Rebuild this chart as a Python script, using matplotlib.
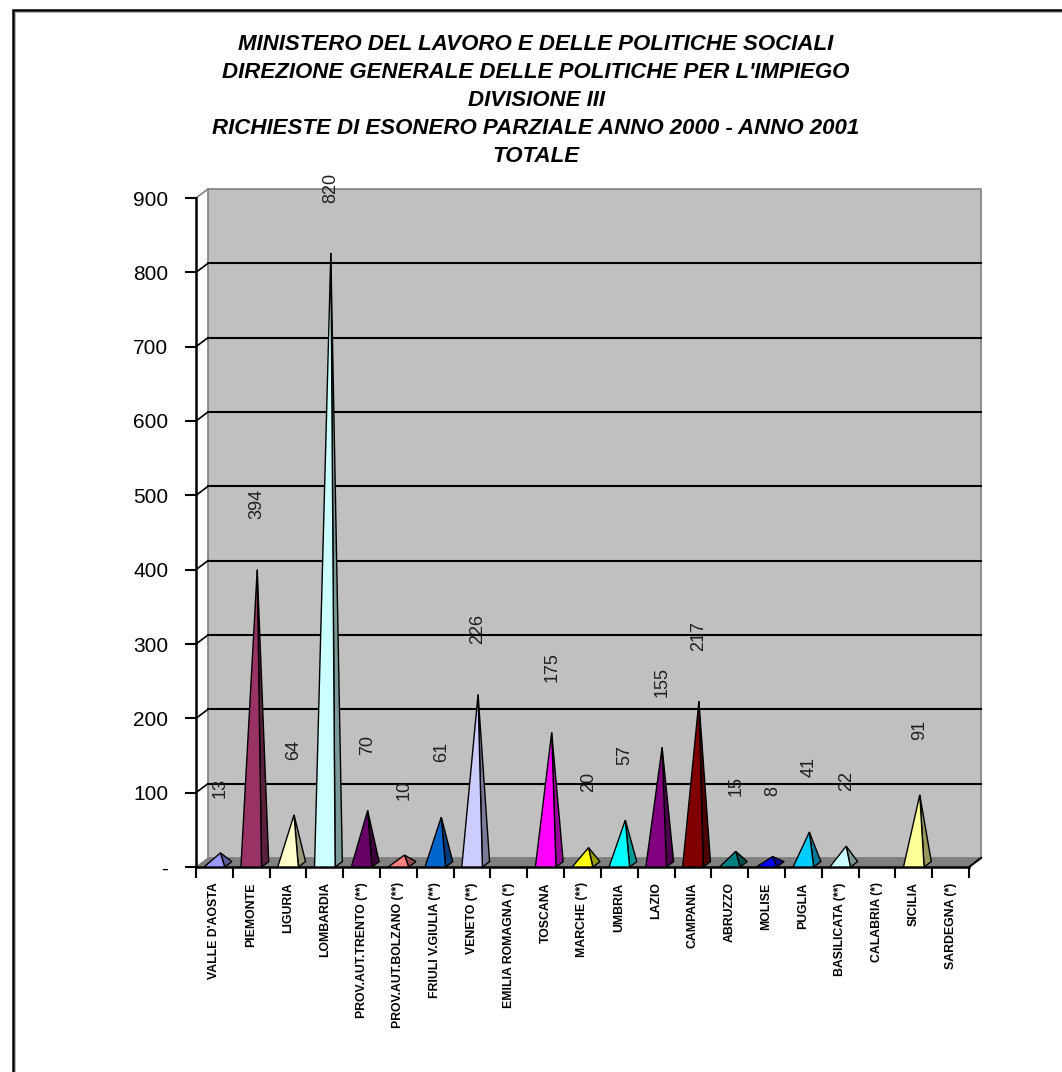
import matplotlib.pyplot as plt
from matplotlib.patches import Polygon, Rectangle
from matplotlib.colors import to_rgb

# Richieste di esonero parziale 2000-2001, totale per regione
regioni = ["VALLE D'AOSTA", "PIEMONTE", "LIGURIA", "LOMBARDIA",
           "PROV.AUT.TRENTO (**)", "PROV.AUT.BOLZANO (**)", "FRIULI V.GIULIA (**)",
           "VENETO (**)", "EMILIA ROMAGNA (*)", "TOSCANA", "MARCHE (**)", "UMBRIA",
           "LAZIO", "CAMPANIA", "ABRUZZO", "MOLISE", "PUGLIA", "BASILICATA (**)",
           "CALABRIA (*)", "SICILIA", "SARDEGNA (*)"]
totale = [13, 394, 64, 820, 70, 10, 61, 226, 0, 175, 20, 57, 155, 217, 15, 8, 41, 22, 0, 91, 0]
colori = ['#9999FF', '#993366', '#FFFFCC', '#CCFFFF', '#660066', '#FF8080', '#0066CC',
          '#CCCCFF', '#000080', '#FF00FF', '#FFFF00', '#00FFFF', '#800080', '#800000',
          '#008080', '#0000FF', '#00CCFF', '#CCFFFF', '#CCFFCC', '#FFFF99', '#99CCFF']
titolo = ["MINISTERO DEL LAVORO E DELLE POLITICHE SOCIALI",
          "DIREZIONE GENERALE DELLE POLITICHE PER L'IMPIEGO",
          "DIVISIONE III",
          "RICHIESTE DI ESONERO PARZIALE ANNO 2000 - ANNO 2001",
          "TOTALE"]
yticks = list(range(0, 1000, 100))
ylabels = ['-'] + [str(v) for v in yticks[1:]]

W, H = 1062, 1072
fig = plt.figure(figsize=(W / 100, H / 100), dpi=100)
fig.patch.set_facecolor('white')

# outer frame
fig.patches.append(Rectangle((13 / W, -0.05), 1.2, 1.05 - 10 / H, transform=fig.transFigure,
                             fill=False, ec='black', lw=1.8))
fig.patches.append(Rectangle((15 / W, -0.05), 1.2, 1.05 - 12 / H, transform=fig.transFigure,
                             fill=False, ec='#b0b0b0', lw=0.7))

ax_l, ax_r, ax_t, ax_b = 196, 969, 198, 867
ax = fig.add_axes([ax_l / W, 1 - ax_b / H, (ax_r - ax_l) / W, (ax_b - ax_t) / H])
n = len(regioni)
ymax = 900
ax.set_xlim(0, n)
ax.set_ylim(0, ymax)
ax.set_facecolor('none')

# depth of the 3d box, converted from pixels to data units
DX = 12 * n / (ax_r - ax_l)
DY = 9 * ymax / (ax_b - ax_t)

# back wall and floor
ax.add_patch(Rectangle((DX, DY), n, ymax, fc='#C0C0C0', ec='#808080', lw=1.2,
                       clip_on=False, zorder=0))
ax.add_patch(Polygon([(0, 0), (n, 0), (n + DX, DY), (DX, DY)], closed=True,
                     fc='#808080', ec='#808080', lw=0.8, clip_on=False, zorder=1))
ax.plot([0, DX], [ymax, ymax + DY], color='#808080', lw=1.2, clip_on=False, zorder=1)
ax.plot([n, n + DX], [0, DY], color='black', lw=1.5, clip_on=False, zorder=3)
for v in yticks[1:-1]:
    ax.plot([0, DX], [v, v + DY], color='black', lw=1.2, clip_on=False, zorder=1)
    ax.plot([DX, n + DX], [v + DY, v + DY], color='black', lw=1.5, clip_on=False, zorder=1)

# pyramids
w = 0.56
for i, (v, c) in enumerate(zip(totale, colori)):
    if v == 0:
        continue
    xc = i + 0.5
    apex = (xc + DX / 2, v + DY / 2)
    front = [(xc - w / 2, 0), (xc + w / 2, 0), apex]
    dark = tuple(0.6 * k for k in to_rgb(c))
    side = [(xc + w / 2, 0), (xc + w / 2 + DX * 0.6, DY * 0.6), apex]
    ax.add_patch(Polygon(side, closed=True, fc=dark, ec='black', lw=1.0,
                         clip_on=False, zorder=4))
    ax.add_patch(Polygon(front, closed=True, fc=c, ec='black', lw=1.0,
                         clip_on=False, zorder=5))
    ax.annotate(str(v), apex, xytext=(0, 47), textcoords='offset points',
                rotation=90, ha='center', va='center', fontsize=13,
                family='Liberation Sans', color='#202020', zorder=6, annotation_clip=False)

# axes and ticks
for s in ['top', 'right']:
    ax.spines[s].set_visible(False)
ax.spines['left'].set_linewidth(1.8)
ax.spines['bottom'].set_linewidth(1.8)
ax.spines['bottom'].set_zorder(3)
ax.set_yticks(yticks)
ax.set_yticklabels(ylabels, family='Liberation Sans', fontsize=15)
ax.tick_params(axis='y', length=8, width=1.5, pad=12)
ax.set_xticks(range(n + 1))
ax.set_xticklabels([])
ax.set_xticks([i + 0.5 for i in range(n)], minor=True)
ax.set_xticklabels(regioni, minor=True, rotation=90, ha='center', va='top',
                   family='Liberation Sans', fontweight='bold', fontsize=8.8)
ax.tick_params(axis='x', which='major', length=8, width=1.5)
ax.tick_params(axis='x', which='minor', length=0, pad=11)

# title block
for k, line in enumerate(titolo):
    fig.text(536 / W, 1 - (45 + 28 * k) / H, line, ha='center', va='center',
             fontsize=16, fontweight='bold', fontstyle='italic',
             family='Liberation Sans')

fig.savefig('out.png', dpi=100)
plt.close()
